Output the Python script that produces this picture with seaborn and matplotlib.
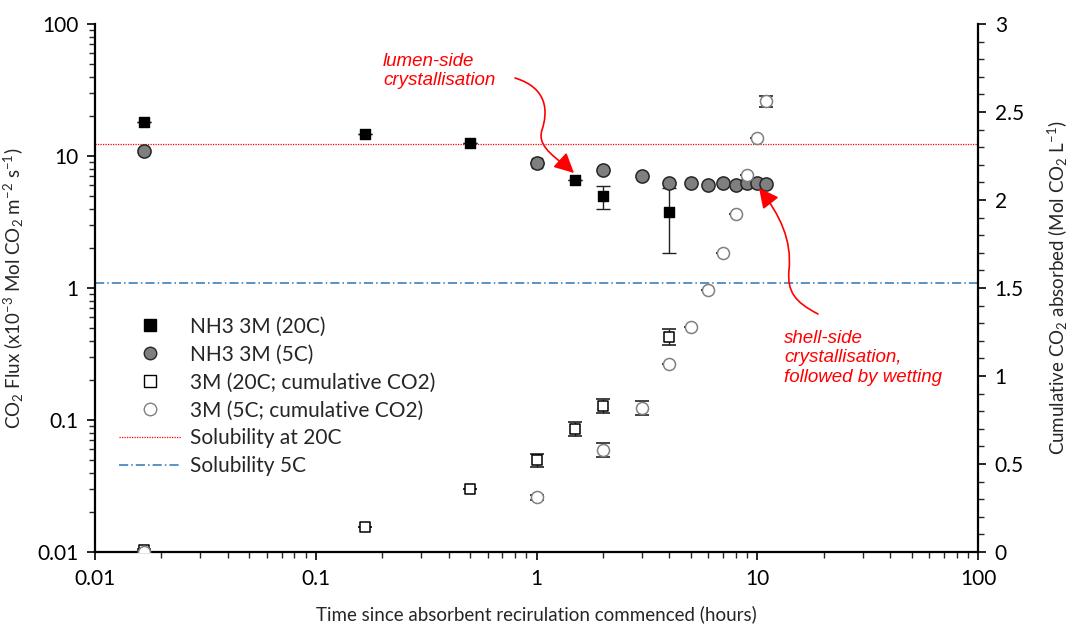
import numpy as np
import pandas as pd
import matplotlib
matplotlib.use('Agg')
import matplotlib.pyplot as plt
import seaborn as sns
from matplotlib.path import Path
from matplotlib.patches import FancyArrowPatch
from matplotlib.lines import Line2D
from matplotlib.ticker import FuncFormatter, LogLocator, MultipleLocator

# ---- data ----
# flux (left axis, log)
t_20c = [0.0167, 0.167, 0.5, 1, 1.5, 2, 4]
flux_20c = [18.1, 14.6, 12.5, 8.9, 6.6, 4.97, 3.77]
flux_20c_err = [0, 0, 0, 0, 0, 0.97, 1.93]

t_5c = [0.0167, 1, 2, 3, 4, 5, 6, 7, 8, 9, 10, 11]
flux_5c = [10.9, 8.85, 7.8, 7.05, 6.2, 6.2, 6.0, 6.2, 6.0, 6.2, 6.2, 6.1]

# cumulative CO2 (right axis, linear)
t_cum_20c = [0.0167, 0.167, 0.5, 1, 1.5, 2, 4]
cum_20c = [0.01, 0.14, 0.36, 0.52, 0.70, 0.83, 1.22]
cum_20c_err = [0.005, 0, 0, 0.035, 0.04, 0.04, 0.045]

t_cum_5c = [0.0167, 1, 2, 3, 4, 5, 6, 7, 8, 9, 10, 11]
cum_5c = [0.0, 0.31, 0.58, 0.82, 1.07, 1.28, 1.49, 1.70, 1.92, 2.14, 2.35, 2.56]
cum_5c_err = [0, 0.015, 0.04, 0.04, 0, 0, 0, 0, 0, 0, 0, 0.03]

sol_20c = 12.3
sol_5c = 1.09

sns.set_style('ticks')
plt.rcParams['font.family'] = ['Lato', 'DejaVu Sans']
plt.rcParams['mathtext.default'] = 'regular'

fig = plt.figure(figsize=(10.7, 6.26), dpi=100)
ax = fig.add_axes([95 / 1070, 1 - 552 / 626, 883 / 1070, 528 / 626])
ax2 = ax.twinx()

df20 = pd.DataFrame({'t': t_20c, 'flux': flux_20c})
df5 = pd.DataFrame({'t': t_5c, 'flux': flux_5c})
dfc20 = pd.DataFrame({'t': t_cum_20c, 'cum': cum_20c})
dfc5 = pd.DataFrame({'t': t_cum_5c, 'cum': cum_5c})

ax.axhline(sol_20c, color='#ff0000', ls=(0, (1, 1)), lw=0.9, zorder=1)
ax.axhline(sol_5c, color='#2e75b6', ls=(0, (6, 2, 1, 2)), lw=1.1, zorder=1)

ax.errorbar(t_20c, flux_20c, yerr=flux_20c_err, fmt='none', ecolor='#222222',
            elinewidth=1, capsize=5, capthick=1, zorder=2)
sns.scatterplot(data=df20, x='t', y='flux', ax=ax, marker='s', s=62,
                color='black', edgecolor='black', linewidth=1, zorder=3)
sns.scatterplot(data=df5, x='t', y='flux', ax=ax, marker='o', s=90,
                color='#7f7f7f', edgecolor='#262626', linewidth=1.1, zorder=4)

ax2.errorbar(t_cum_20c, cum_20c, yerr=cum_20c_err, fmt='none', ecolor='#222222',
             elinewidth=1, capsize=5, capthick=1.2, zorder=2)
ax2.errorbar(t_cum_5c, cum_5c, yerr=cum_5c_err, fmt='none', ecolor='#222222',
             elinewidth=1, capsize=5, capthick=1.2, zorder=2)
sns.scatterplot(data=dfc20, x='t', y='cum', ax=ax2, marker='s', s=62,
                color='white', edgecolor='black', linewidth=1.1, zorder=3)
sns.scatterplot(data=dfc5, x='t', y='cum', ax=ax2, marker='o', s=75,
                color='white', edgecolor='#808080', linewidth=1.1, zorder=3)

# axes, scales, ticks
ax.set_xscale('log')
ax.set_yscale('log')
ax.set_xlim(0.01, 100)
ax.set_ylim(0.01, 100)
ax2.set_ylim(0, 3)
fmt = FuncFormatter(lambda v, p: '%g' % v)
ax.xaxis.set_major_formatter(fmt)
ax.yaxis.set_major_formatter(fmt)
ax.xaxis.set_minor_formatter(plt.NullFormatter())
ax.yaxis.set_minor_formatter(plt.NullFormatter())
ax.xaxis.set_minor_locator(LogLocator(base=10, subs=np.arange(2, 10)))
ax.yaxis.set_minor_locator(LogLocator(base=10, subs=np.arange(2, 10)))
ax2.yaxis.set_major_locator(MultipleLocator(0.5))
ax2.yaxis.set_minor_locator(MultipleLocator(0.1))
ax2.yaxis.set_major_formatter(fmt)

for a in (ax, ax2):
    a.tick_params(which='major', length=6, width=1.2, labelsize=15, colors='black', pad=6)
    a.tick_params(which='minor', length=4, width=1)
    for s in a.spines.values():
        s.set_linewidth(1.6)
        s.set_color('black')
    a.spines['top'].set_visible(False)
ax.spines['right'].set_visible(False)
ax2.spines['left'].set_visible(False)
ax2.spines['bottom'].set_visible(False)

ax.set_xlabel('Time since absorbent recirulation commenced (hours)', fontsize=13.5, labelpad=12)
ax.set_ylabel('CO$_2$ Flux (x10$^{-3}$ Mol CO$_2$ m$^{-2}$ s$^{-1}$)', fontsize=13.5, labelpad=8)
ax2.set_ylabel('Cumulative CO$_2$ absorbed (Mol CO$_2$ L$^{-1}$)', fontsize=13.5, labelpad=16)

# legend
handles = [
    Line2D([], [], ls='none', marker='s', ms=8, mfc='black', mec='black'),
    Line2D([], [], ls='none', marker='o', ms=9, mfc='#7f7f7f', mec='#262626'),
    Line2D([], [], ls='none', marker='s', ms=8, mfc='white', mec='black'),
    Line2D([], [], ls='none', marker='o', ms=9, mfc='white', mec='#808080'),
    Line2D([], [], color='#ff0000', ls=(0, (1, 1)), lw=0.9),
    Line2D([], [], color='#2e75b6', ls=(0, (6, 2, 1, 2)), lw=1.1),
]
labels = ['NH3 3M (20C)', 'NH3 3M (5C)', '3M (20C; cumulative CO2)',
          '3M (5C; cumulative CO2)', 'Solubility at 20C', 'Solubility 5C']
ax2.legend(handles, labels, loc='upper left', bbox_to_anchor=(100 / 1070, 1 - 298 / 626),
           bbox_transform=fig.transFigure, frameon=False, fontsize=15,
           handlelength=3.0, handletextpad=0.4, labelspacing=0.38)

# annotations
red = '#ff0000'
fig.text(383 / 1070, 1 - 71 / 626, 'lumen-side\ncrystallisation', color=red, style='italic',
         family='Liberation Sans', fontsize=13.5, ha='left', va='center', linespacing=1.2)
fig.text(784 / 1070, 1 - 358 / 626, 'shell-side\ncrystallisation,\nfollowed by wetting', color=red,
         style='italic', family='Liberation Sans', fontsize=13.5, ha='left', va='center',
         linespacing=1.2)


def px(x, y):
    return (x / 1070, 1 - y / 626)


lumen = Path([px(515, 78), px(548, 88), px(548, 112), px(542, 130),
              px(536, 148), px(560, 160), px(574, 173)],
             [Path.MOVETO, Path.CURVE4, Path.CURVE4, Path.CURVE4,
              Path.CURVE4, Path.CURVE4, Path.CURVE4])
shell = Path([px(818, 314), px(795, 302), px(787, 292), px(789, 270),
              px(792, 240), px(780, 215), px(759, 188)],
             [Path.MOVETO, Path.CURVE4, Path.CURVE4, Path.CURVE4,
              Path.CURVE4, Path.CURVE4, Path.CURVE4])
for p in (lumen, shell):
    fig.patches.append(FancyArrowPatch(path=p, transform=fig.transFigure,
                                       arrowstyle='-|>,head_length=12,head_width=6',
                                       mutation_scale=1, color=red, lw=1.2))

fig.savefig('out.png', dpi=100)
